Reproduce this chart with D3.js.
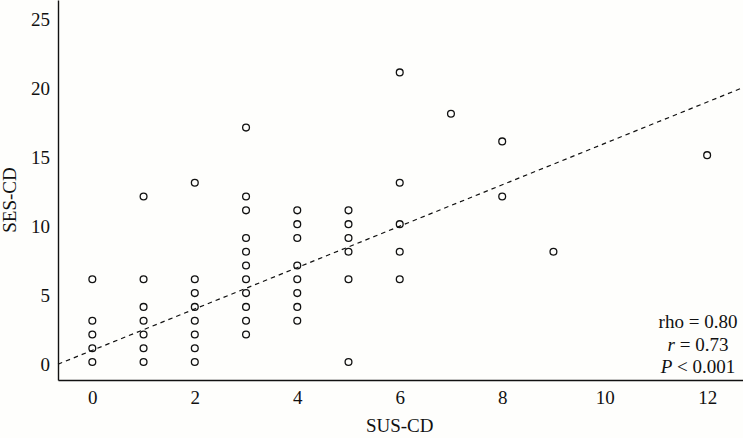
<!DOCTYPE html>
<html>
<head>
<meta charset="utf-8">
<script src="https://cdn.jsdelivr.net/npm/d3@7"></script>
<style>
  body { margin: 0; background: #fefefc; }
  text { font-family: "Liberation Serif", "Times New Roman", serif; fill: #111; }
</style>
</head>
<body>
<div id="chart"></div>
<script>
// SUS-CD (x) vs SES-CD (y), one entry per column of points
var susValues = [0, 1, 2, 3, 4, 5, 6, 7, 8, 9, 12];
var sesValues = [
  [6, 3, 2, 1, 0],
  [12, 6, 4, 3, 2, 1, 0],
  [13, 6, 5, 4, 3, 2, 1, 0],
  [17, 12, 11, 9, 8, 7, 6, 5, 4, 3, 2],
  [11, 10, 9, 7, 6, 5, 4, 3],
  [11, 10, 9, 8, 6, 0],
  [21, 13, 10, 8, 6],
  [18],
  [16, 12],
  [8],
  [15]
];
var xTicks = [0, 2, 4, 6, 8, 10, 12];
var yTicks = [0, 5, 10, 15, 20, 25];
var fitIntercept = 0.85, fitSlope = 1.5;
var statLines = ["rho = 0.80", "r = 0.73", "P < 0.001"];

var W = 743, H = 438;
var margin = {top: 0, right: 0, bottom: 58, left: 58};
var width = W - margin.left - margin.right,
    height = H - margin.top - margin.bottom;

var points = [];
susValues.forEach(function(s, i) {
  sesValues[i].forEach(function(v) { points.push({x: s, y: v}); });
});

var svg = d3.select("#chart").append("svg")
    .attr("width", W).attr("height", H)
  .append("g")
    .attr("transform", "translate(" + margin.left + "," + margin.top + ")");

var x = d3.scaleLinear().domain([-0.67, 12.7]).range([0, width]);
var y = d3.scaleLinear().domain([-1.3, 26.25]).range([height, 0]);

// axes (no tick marks, labels only)
var xAxis = svg.append("g")
    .attr("transform", "translate(0," + height + ")")
    .call(d3.axisBottom(x).tickValues(xTicks).tickSize(0).tickPadding(11));
var yAxis = svg.append("g")
    .call(d3.axisLeft(y).tickValues(yTicks).tickSize(0).tickPadding(8));
[xAxis, yAxis].forEach(function(a) {
  a.select(".domain").attr("stroke", "#111").attr("stroke-width", 1.4);
  a.selectAll("text").style("font-size", "19px")
    .style("font-family", "'Liberation Serif', serif").attr("fill", "#111");
});
yAxis.selectAll("text").attr("dy", "0.45em");

// regression line
var x0 = x.domain()[0], x1 = x.domain()[1];
svg.append("line")
    .attr("x1", x(x0)).attr("y1", y(fitIntercept + fitSlope * x0))
    .attr("x2", x(x1)).attr("y2", y(fitIntercept + fitSlope * x1))
    .attr("stroke", "#111")
    .attr("stroke-width", 1.2)
    .attr("stroke-dasharray", "4.5,4");

// points
svg.append("g").selectAll("circle")
  .data(points)
  .enter().append("circle")
    .attr("cx", function(d) { return x(d.x); })
    .attr("cy", function(d) { return y(d.y); })
    .attr("r", 3.4)
    .attr("fill", "none")
    .attr("stroke", "#111")
    .attr("stroke-width", 1.3);

// axis titles
svg.append("text")
    .attr("x", x(6))
    .attr("y", height + 52)
    .style("text-anchor", "middle")
    .style("font-size", "19px")
    .text("SUS-CD");

svg.append("text")
    .attr("transform", "rotate(-90)")
    .attr("x", -200)
    .attr("y", -42)
    .style("text-anchor", "middle")
    .style("font-size", "19px")
    .text("SES-CD");

// statistics
var stat = svg.append("text")
    .style("text-anchor", "middle")
    .style("font-size", "19px");
stat.append("tspan").attr("x", 640).attr("y", 328).text(statLines[0]);
var t2 = stat.append("tspan").attr("x", 640).attr("y", 351);
t2.append("tspan").style("font-style", "italic").text("r");
t2.append("tspan").text(statLines[1].slice(1));
var t3 = stat.append("tspan").attr("x", 640).attr("y", 373);
t3.append("tspan").style("font-style", "italic").text("P");
t3.append("tspan").text(statLines[2].slice(1));
</script>
</body>
</html>
